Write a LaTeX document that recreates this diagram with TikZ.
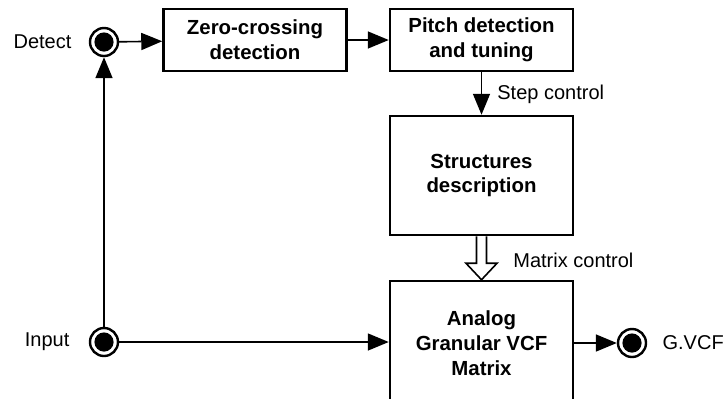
\documentclass[tikz,border=0pt]{standalone}
\usepackage{fontspec}
\setmainfont{Liberation Sans}
\usetikzlibrary{arrows.meta,calc,positioning}

\tikzset{
  blk/.style={draw,line width=1.25pt,rectangle,inner sep=0pt,align=center,
    minimum width=91.5pt,font=\fontsize{10.2}{12.4}\selectfont\bfseries},
  jack/.style={draw,circle,line width=1.2pt,fill=white,minimum size=14pt,inner sep=0pt,
    path picture={\fill[black] (path picture bounding box.center) circle[radius=4.8pt];}},
  sig/.style={line width=0.8pt,-{Triangle[length=10.5pt,width=8.5pt]}},
  lbl/.style={font=\fontsize{10}{12}\selectfont,inner sep=0pt}
}

\begin{document}
\begin{tikzpicture}[x=0.5pt,y=-0.5pt]
\useasboundingbox (0,0) rectangle (728,398);
\clip (0,0) rectangle (728,398);

% jacks
\node [jack] (detect) at (104,42) {};
\node [lbl,left=8.5pt of detect] {Detect};
\node [jack] (input) at (104,342) {};
\node [lbl,left=9.5pt of input] {Input};
\node [jack] (gvcf) at (632,343) {};
\node [lbl,right=7.5pt of gvcf] {G.VCF};

% blocks
\node [blk,minimum height=31pt] (zero) at (255,40) {Zero-crossing\\detection};
\node [blk,minimum height=31pt] (pitch) at (481.5,40) {Pitch detection\\and tuning};
\node [blk,minimum height=59.5pt] (struct) at (481.5,175.5) {Structures\\description};
\node [blk,minimum height=62pt] (matrix) at (481.5,343) {Analog\\Granular VCF\\Matrix};

% signal flow
\draw [sig] (detect) -- (zero);
\draw [sig] (zero) -- (pitch);
\draw [sig] (pitch.south) -- (struct.north);
\node [lbl,anchor=west] at (497,94) {Step control};
\draw [sig] (input) -- (input -| matrix.west);
\draw [sig] (input) -- (detect);
\draw [sig] (matrix.east |- gvcf) -- (gvcf);

% matrix control (hollow arrow)
\draw [line width=0.8pt,fill=white,line join=miter]
  ($(struct.south)+(-5,0)$) -- ($(struct.south)+(-5,27)$) -- ($(struct.south)+(-15.5,27)$)
  -- (matrix.north) -- ($(struct.south)+(15.5,27)$) -- ($(struct.south)+(5,27)$)
  -- ($(struct.south)+(5,0)$);
\node [lbl,anchor=west] at (513,260) {Matrix control};
\end{tikzpicture}
\end{document}
